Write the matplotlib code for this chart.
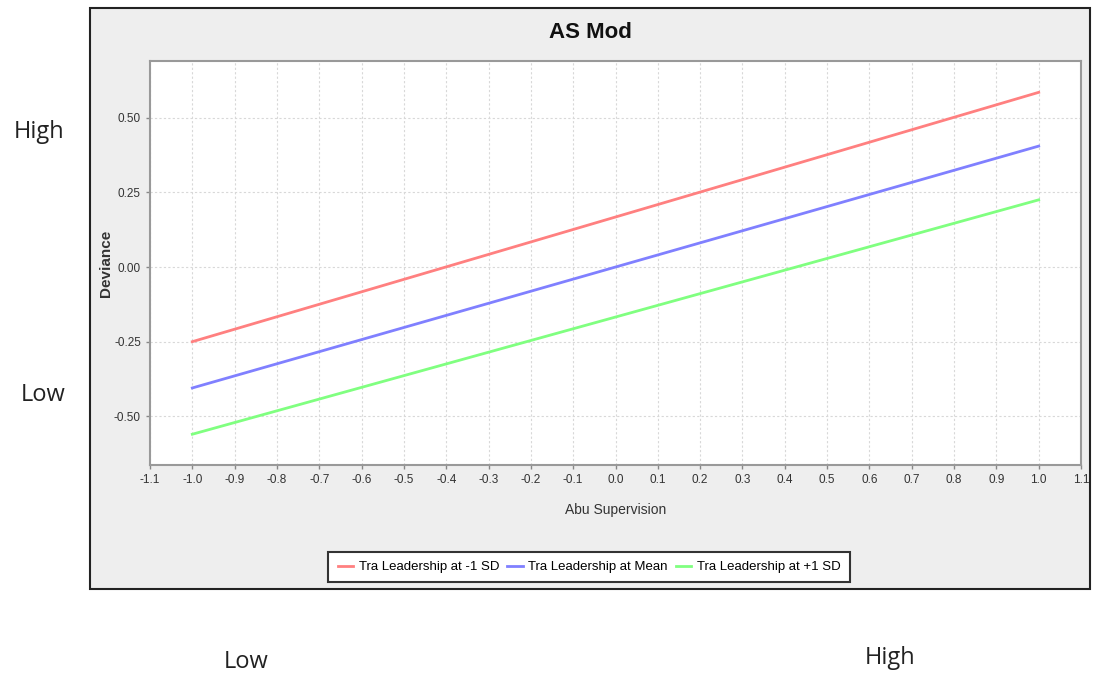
import matplotlib
matplotlib.use("Agg")
import matplotlib.pyplot as plt
from matplotlib.patches import Rectangle
import numpy as np

# Data
x_vals = [-1.0, 1.0]
series_labels = ["Tra Leadership at -1 SD", "Tra Leadership at Mean", "Tra Leadership at +1 SD"]
low_sd = [-0.25, 0.585]
mean_vals = [-0.405, 0.405]
high_sd = [-0.56, 0.225]
series_colors = ["#FF8080", "#8080FF", "#80FF80"]
x_ticks = [round(v, 1) for v in np.arange(-1.1, 1.11, 0.1)]
y_ticks = [-0.50, -0.25, 0.00, 0.25, 0.50]

W, H = 1094, 675
fig = plt.figure(figsize=(W / 100, H / 100), dpi=100)
fig.patch.set_facecolor("white")

narrow = ["Liberation Sans", "DejaVu Sans"]

# outer chart panel
fig.patches.append(Rectangle((90 / W, 1 - 589 / H), 1000 / W, 581 / H,
                             transform=fig.transFigure, facecolor="#EEEEEE",
                             edgecolor="#222222", linewidth=1.5, zorder=-5))

ax = fig.add_axes([150 / W, 1 - 465 / H, 931 / W, 404 / H])
ax.set_zorder(2)
ax.set_facecolor("white")
for data, lab, col in zip([low_sd, mean_vals, high_sd], series_labels, series_colors):
    ax.plot(x_vals, data, color=col, linewidth=2, label=lab)

ax.set_xlim(-1.1, 1.1)
ax.set_ylim(-0.663, 0.69)
ax.set_xticks(x_ticks)
ax.set_xticklabels([f"{v:.1f}" for v in x_ticks], fontfamily=narrow, fontsize=8.5, color="#333333")
ax.set_yticks(y_ticks)
ax.set_yticklabels([f"{v:.2f}" for v in y_ticks], fontfamily=narrow, fontsize=8.5, color="#333333")
ax.grid(True, color="#D8D8D8", linestyle=(0, (2, 2)), linewidth=0.8)
ax.tick_params(direction="out", length=3, color="#888888", width=1)
for s in ax.spines.values():
    s.set_color("#999999")
    s.set_linewidth(1.5)

ax.set_xlabel("Abu Supervision", fontfamily=narrow, fontsize=10, color="#333333", labelpad=12)
ax.set_ylabel("Deviance", fontfamily=narrow, fontsize=11, fontweight="bold", color="#333333", labelpad=1)

fig.text(590 / W, 1 - 33 / H, "AS Mod", ha="center", va="center", fontsize=16,
         fontweight="bold", fontfamily=narrow, color="#111111")

leg = fig.legend(loc="center", bbox_to_anchor=(589 / W, 1 - 567 / H), ncol=3,
                 frameon=True, fancybox=False, edgecolor="#333333", framealpha=1,
                 prop={"family": narrow, "size": 9.5}, handlelength=1.2,
                 handletextpad=0.4, columnspacing=0.6, borderpad=0.7)
leg.get_frame().set_linewidth(1.5)
leg.set_zorder(3)

side = ["Open Sans", "DejaVu Sans"]
fig.text(39 / W, 1 - 132 / H, "High", ha="center", va="center", fontsize=17, fontfamily=side, color="#222222")
fig.text(43 / W, 1 - 395 / H, "Low", ha="center", va="center", fontsize=17, fontfamily=side, color="#222222")
fig.text(246 / W, 1 - 662 / H, "Low", ha="center", va="center", fontsize=17, fontfamily=side, color="#222222")
fig.text(890 / W, 1 - 658 / H, "High", ha="center", va="center", fontsize=17, fontfamily=side, color="#222222")

fig.savefig("out.png", dpi=100)
